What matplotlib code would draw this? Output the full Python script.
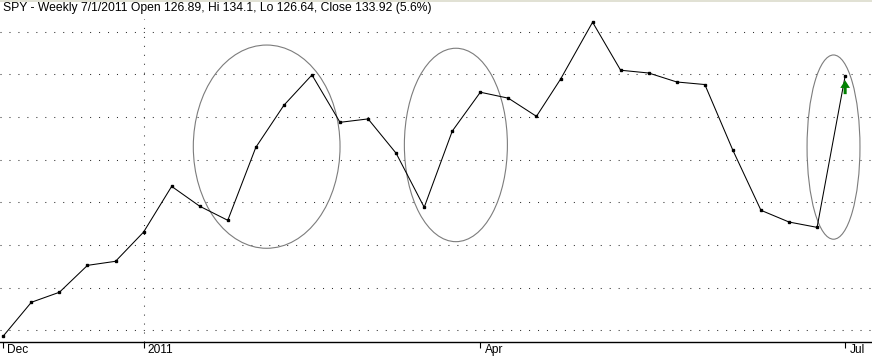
import matplotlib
matplotlib.use("Agg")
import matplotlib.pyplot as plt
import matplotlib.dates as mdates
from matplotlib.patches import Ellipse
from matplotlib.transforms import ScaledTranslation
import pandas as pd

plt.rcParams["font.family"] = ["Liberation Sans", "DejaVu Sans"]

TITLE = "SPY - Weekly 7/1/2011 Open 126.89, Hi 134.1, Lo 126.64, Close 133.92 (5.6%)"

# weekly closes
weeks = [
    "2010-12-03", "2010-12-10", "2010-12-17", "2010-12-24", "2010-12-31",
    "2011-01-07", "2011-01-14", "2011-01-21", "2011-01-28", "2011-02-04",
    "2011-02-11", "2011-02-18", "2011-02-25", "2011-03-04", "2011-03-11",
    "2011-03-18", "2011-03-25", "2011-04-01", "2011-04-08", "2011-04-15",
    "2011-04-21", "2011-04-29", "2011-05-06", "2011-05-13", "2011-05-20",
    "2011-05-27", "2011-06-03", "2011-06-10", "2011-06-17", "2011-06-24",
    "2011-07-01",
]
closes = [
    121.74, 123.32, 123.79, 125.05, 125.24,
    126.61, 128.75, 127.82, 127.16, 130.58,
    132.55, 133.97, 131.75, 131.91, 130.30,
    127.77, 131.34, 133.16, 132.88, 132.03,
    133.77, 136.44, 134.19, 134.06, 133.64,
    133.52, 130.44, 127.63, 127.08, 126.83,
    133.92,
]
tick_dates = ["2010-12-03", "2011-01-07", "2011-04-01", "2011-07-01"]
tick_labels = ["Dec", "2011", "Apr", "Jul"]
year_break = "2011-01-07"
grid_levels = [122, 124, 126, 128, 130, 132, 134, 136]

# hand-drawn ellipses: (days after first week, centre price, width days, height)
circles = [
    (65.7, 130.61, 36.6, 9.52),
    (112.9, 130.69, 25.7, 9.06),
    (207.1, 130.59, 13.2, 8.63),
]

dates = pd.to_datetime(weeks)
start = dates[0]

fig = plt.figure(figsize=(8.72, 3.58), dpi=100)
ax = fig.add_axes([0, 16 / 358, 1, 323 / 358])

for lvl in grid_levels:
    ax.axhline(lvl, color="#303030", lw=0.75, ls=(0, (1, 7.6)), zorder=1)
ax.axvline(pd.Timestamp(year_break), color="#303030", lw=0.75,
           ls=(0, (1, 7.6)), zorder=1)

ax.plot(dates, closes, color="black", lw=0.75, marker="s", markersize=2.0, zorder=3)

for off, cy, w, h in circles:
    cx = mdates.date2num(start + pd.Timedelta(days=off))
    ax.add_patch(Ellipse((cx, cy), w, h, fill=False, edgecolor="#7c7c7c",
                         lw=0.8, zorder=2))

last_d = dates[-1]
last_c = closes[-1]
ax.annotate("", xy=(last_d, last_c - 0.2), xytext=(last_d, last_c - 0.85),
            arrowprops=dict(facecolor="#008000", edgecolor="#008000",
                            width=2.2, headwidth=7, headlength=5.5, lw=0),
            zorder=4)

ax.set_xlim(mdates.date2num(start) - 0.82, mdates.date2num(start) + 216.7)
ax.set_ylim(121.46, 136.59)

for s in ["left", "right", "top"]:
    ax.spines[s].set_visible(False)
ax.spines["bottom"].set_linewidth(1.0)
ax.set_yticks([])
ax.set_xticks(pd.to_datetime(tick_dates))
ax.set_xticklabels(tick_labels)
ax.tick_params(axis="x", direction="out", length=4.5, width=0.8, pad=-3,
               labelsize=8.6)
for lbl in ax.get_xticklabels():
    lbl.set_ha("left")
    lbl.set_transform(lbl.get_transform() + ScaledTranslation(3 / 72, 0, fig.dpi_scale_trans))

fig.text(3 / 872, 1 - 2 / 358, TITLE, ha="left", va="top", fontsize=8.75)
fig.add_artist(plt.Line2D([0, 1], [1 - 0.5 / 358] * 2, color="#dcdccc", lw=1.2))

fig.savefig("out.png", dpi=100)
